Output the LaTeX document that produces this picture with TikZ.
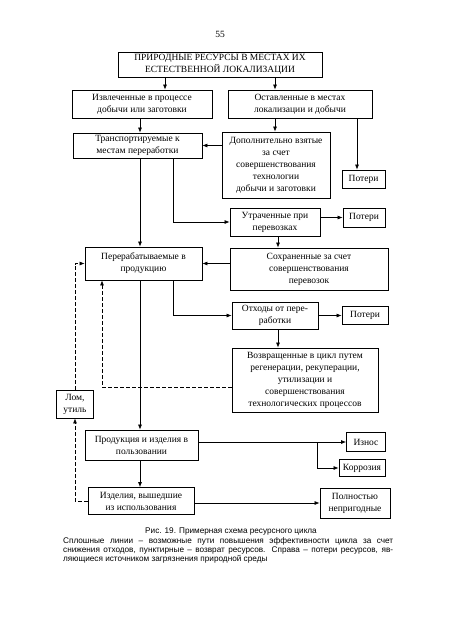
\documentclass[tikz,border=0pt]{standalone}
\usepackage{fontspec}
\setmainfont{Liberation Serif}
\newfontfamily\capfont{Liberation Sans}
\usetikzlibrary{arrows.meta}
\begin{document}
\begin{tikzpicture}[x=1pt,y=-1pt,
  box/.style={draw, line width=0.8pt, align=center, inner sep=1pt,
    font=\fontsize{9.5}{12}\selectfont},
  arr/.style={-{Latex[length=5pt,width=4pt]}, line width=0.7pt},
  ret/.style={arr, dash pattern=on 3.5pt off 2.5pt},
  capt/.style={font=\capfont\fontsize{8.2}{10}\selectfont, inner sep=0pt}]
\useasboundingbox (0,0) rectangle (450,638);
\fill[white] (0,0) rectangle (450,638);

\node[font=\fontsize{9.5}{12}\selectfont] (pg) at (220,34) {55};

\node[box, minimum width=204pt, minimum height=25pt] (top) at (220,64.5)
  {ПРИРОДНЫЕ РЕСУРСЫ В МЕСТАХ ИХ\\ЕСТЕСТВЕННОЙ ЛОКАЛИЗАЦИИ};
\node[box, minimum width=140pt, minimum height=28pt] (b2) at (142,104)
  {Извлеченные в процессе\\добычи или заготовки};
\node[box, minimum width=144pt, minimum height=28pt] (b3) at (300,104)
  {Оставленные в местах\\локализации и добычи};
\node[box, minimum width=129pt, minimum height=25pt] (b4) at (137.5,145.5)
  {Транспортируемые к\\местам переработки};
\node[box, minimum width=108pt, minimum height=66pt] (b5) at (276,165)
  {Дополнительно взятые\\за счет\\совершенствования\\технологии\\добычи и заготовки};
\node[box, minimum width=43pt, minimum height=18pt] (p1) at (363.5,179) {Потери};
\node[box, minimum width=90pt, minimum height=28pt] (b6) at (275,222)
  {Утраченные при\\перевозках};
\node[box, minimum width=42pt, minimum height=19pt] (p2) at (364,217.5) {Потери};
\node[box, minimum width=158pt, minimum height=42pt] (b7) at (309,269)
  {Сохраненные за счет\\совершенствования\\перевозок};
\node[box, minimum width=117pt, minimum height=33pt] (b8) at (143.5,263.5)
  {Перерабатываемые в\\продукцию};
\node[box, minimum width=86pt, minimum height=27pt] (b9) at (275,315.5)
  {Отходы от пере-\\работки};
\node[box, minimum width=46pt, minimum height=18pt] (p3) at (365,315) {Потери};
\node[box, minimum width=146pt, minimum height=64pt] (b10) at (305,380)
  {Возвращенные в цикл путем\\регенерации, рекуперации,\\утилизации и\\совершенствования\\технологических процессов};
\node[box, minimum width=37pt, minimum height=28pt] (lom) at (75,404)
  {Лом,\\утиль};
\node[box, minimum width=113pt, minimum height=30pt] (b11) at (141.5,445)
  {Продукция и изделия в\\пользовании};
\node[box, minimum width=39pt, minimum height=19pt] (iz) at (366,442) {Износ};
\node[box, minimum width=46pt, minimum height=17pt] (kor) at (362,468) {Коррозия};
\node[box, minimum width=106pt, minimum height=27pt] (b12) at (141,501)
  {Изделия, вышедшие\\из использования};
\node[box, minimum width=70pt, minimum height=30pt] (pol) at (355,503)
  {Полностью\\непригодные};

\coordinate (xA) at (165,0);
\coordinate (xB) at (275,0);
\coordinate (xC) at (140,0);
\coordinate (xD) at (357,0);
\coordinate (xE) at (173,0);
\coordinate (xF) at (278,0);
\coordinate (xG) at (102,0);
\coordinate (xI) at (317,0);

\draw[arr] (top.south -| xA) -- (b2.north -| xA);
\draw[arr] (top.south -| xB) -- (b3.north -| xB);
\draw[arr] (b2.south -| xC) -- (b4.north -| xC);
\draw[arr] (b3.south -| xB) -- (b5.north -| xB);
\draw[arr] (b5.west |- b4.east) -- (b4.east);
\draw[arr] (b3.south -| xD) -- (p1.north -| xD);
\draw[arr] (b4.south -| xE) |- (b6.west);
\draw[arr] (b6.east |- p2.west) -- (p2.west);
\draw[arr] (b4.south -| xC) -- (b8.north -| xC);
\draw[arr] (b6.south -| xF) -- (b7.north -| xF);
\draw[arr] (b7.west |- b8.east) -- (b8.east);
\draw[arr] (b8.south -| xE) |- (b9.west);
\draw[arr] (b9.east) -- (b9.east -| p3.west);
\draw[arr] (b9.south -| xF) -- (b10.north -| xF);
\draw[ret] ([yshift=-7pt]b10.west) -| (b8.south -| xG);
\draw[arr] (b8.south -| xC) -- (b11.north -| xC);
\draw[ret] (lom.north) |- (b8.west);
\draw[ret] (b12.west) -| (lom.south);
\draw[arr] (b11.east |- iz.west) -- (iz.west);
\draw[arr] (xI |- iz.west) |- (kor.west);
\draw[arr] (b11.south -| xC) -- (b12.north -| xC);
\draw[arr] (b12.east |- pol.west) -- (pol.west);

\node[capt, anchor=base] (c1) at (231,533) {Рис. 19. Примерная схема ресурсного цикла};
\node[capt, anchor=base west] (c2) at (63,543)
  {\makebox[330pt][s]{Сплошные линии – возможные пути повышения эффективности цикла за счет}};
\node[capt, anchor=base west] (c3) at (63,552)
  {\makebox[330pt][s]{снижения отходов, пунктирные – возврат ресурсов. Справа – потери ресурсов, яв-}};
\node[capt, anchor=base west] (c4) at (63,561)
  {ляющиеся источником загрязнения природной среды};
\end{tikzpicture}
\end{document}
